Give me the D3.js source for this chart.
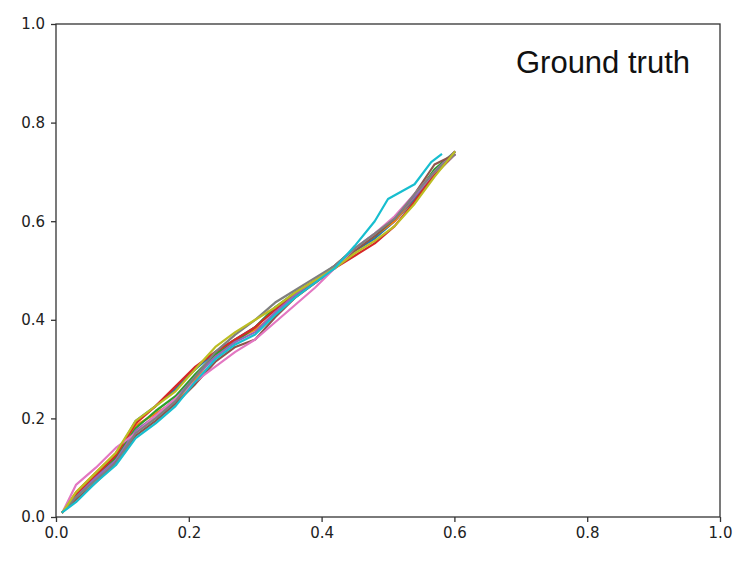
<!DOCTYPE html>
<html>
<head>
<meta charset="utf-8">
<script src="https://cdn.jsdelivr.net/npm/d3@7"></script>
<style>
  html, body { margin: 0; padding: 0; background: #fff; }
  svg { display: block; }
</style>
</head>
<body>
<script>
// ---- data ----
const xGrid = [0.01,0.03,0.06,0.09,0.12,0.15,0.18,0.21,0.24,0.27,0.30,0.33,0.36,0.39,0.42,0.45,0.48,0.51,0.54,0.57,0.60];
const cyanX = [0.01,0.03,0.06,0.09,0.12,0.15,0.18,0.21,0.24,0.27,0.30,0.33,0.36,0.39,0.42,0.45,0.48,0.50,0.54,0.565,0.58];

const blueY   = [0.01,0.045,0.085,0.125,0.195,0.225,0.26,0.30,0.335,0.36,0.385,0.425,0.45,0.48,0.505,0.54,0.565,0.60,0.645,0.695,0.735];
const orangeY = [0.01,0.05,0.09,0.13,0.185,0.21,0.235,0.28,0.33,0.36,0.38,0.41,0.445,0.475,0.51,0.545,0.57,0.60,0.65,0.70,0.74];
const greenY  = [0.01,0.04,0.08,0.12,0.18,0.215,0.245,0.29,0.33,0.355,0.385,0.425,0.455,0.48,0.51,0.545,0.57,0.605,0.65,0.705,0.74];
const redY    = [0.01,0.045,0.085,0.125,0.19,0.225,0.265,0.305,0.335,0.36,0.385,0.42,0.45,0.475,0.505,0.53,0.555,0.59,0.64,0.695,0.735];
const purpleY = [0.01,0.04,0.08,0.115,0.175,0.205,0.24,0.285,0.325,0.355,0.375,0.415,0.45,0.48,0.51,0.545,0.575,0.605,0.65,0.70,0.74];
const brownY  = [0.01,0.035,0.07,0.11,0.165,0.195,0.23,0.27,0.315,0.345,0.36,0.405,0.445,0.475,0.505,0.54,0.57,0.605,0.655,0.715,0.735];
const pinkY   = [0.01,0.065,0.10,0.14,0.17,0.205,0.24,0.275,0.305,0.335,0.36,0.395,0.43,0.465,0.505,0.545,0.575,0.61,0.655,0.70,0.735];
const grayY   = [0.01,0.04,0.075,0.11,0.17,0.20,0.235,0.285,0.335,0.37,0.40,0.435,0.46,0.485,0.51,0.545,0.575,0.605,0.655,0.70,0.735];
const oliveY  = [0.01,0.05,0.09,0.13,0.195,0.225,0.255,0.30,0.345,0.375,0.40,0.425,0.455,0.48,0.505,0.535,0.56,0.59,0.635,0.69,0.74];
const cyanY   = [0.01,0.03,0.07,0.105,0.16,0.19,0.225,0.275,0.32,0.35,0.37,0.41,0.445,0.475,0.505,0.55,0.60,0.645,0.675,0.72,0.735];

const seriesNames  = ["blue","orange","green","red","purple","brown","pink","gray","olive","cyan"];
const seriesColors = ["#1f77b4","#ff7f0e","#2ca02c","#d62728","#9467bd","#8c564b","#e377c2","#7f7f7f","#bcbd22","#17becf"];
const seriesX = [xGrid,xGrid,xGrid,xGrid,xGrid,xGrid,xGrid,xGrid,xGrid,cyanX];
const seriesY = [blueY,orangeY,greenY,redY,purpleY,brownY,pinkY,grayY,oliveY,cyanY];

const tickValues = [0.0,0.2,0.4,0.6,0.8,1.0];
const titleText = "Ground truth";

// ---- layout ----
const W = 750, H = 563;
const m = {left: 56, right: 30, top: 24, bottom: 46};

const svg = d3.select("body").append("svg").attr("width", W).attr("height", H);

const x = d3.scaleLinear().domain([0,1]).range([m.left, W - m.right]);
const y = d3.scaleLinear().domain([0,1]).range([H - m.bottom, m.top]);

const line = d3.line().x(d => x(d[0])).y(d => y(d[1]));

const g = svg.append("g");
seriesNames.forEach((n, i) => {
  const pts = seriesX[i].map((xv, j) => [xv, seriesY[i][j]]);
  g.append("path")
    .datum(pts)
    .attr("fill", "none")
    .attr("stroke", seriesColors[i])
    .attr("stroke-width", 2.2)
    .attr("stroke-linejoin", "round")
    .attr("stroke-linecap", "square")
    .attr("d", line);
});

// frame
svg.append("rect")
  .attr("x", x(0)).attr("y", y(1))
  .attr("width", x(1) - x(0)).attr("height", y(0) - y(1))
  .attr("fill", "none").attr("stroke", "#333").attr("stroke-width", 1.3);

const fmt = d3.format(".1f");
const xAxis = svg.append("g")
  .attr("transform", `translate(0,${y(0)})`)
  .call(d3.axisBottom(x).tickValues(tickValues).tickFormat(fmt).tickSize(5).tickPadding(5));
const yAxis = svg.append("g")
  .attr("transform", `translate(${x(0)},0)`)
  .call(d3.axisLeft(y).tickValues(tickValues).tickFormat(fmt).tickSize(5).tickPadding(6));

[xAxis, yAxis].forEach(a => {
  a.select(".domain").remove();
  a.selectAll(".tick line").attr("stroke", "#333").attr("stroke-width", 1.3);
  a.selectAll(".tick text")
    .attr("fill", "#222")
    .style("font-family", "'DejaVu Sans', sans-serif")
    .style("font-size", "15px");
});

svg.append("text")
  .attr("x", 690).attr("y", 73)
  .attr("text-anchor", "end")
  .style("font-family", "'Liberation Sans', Arial, sans-serif")
  .style("font-size", "31px")
  .attr("fill", "#111")
  .text(titleText);
</script>
</body>
</html>
